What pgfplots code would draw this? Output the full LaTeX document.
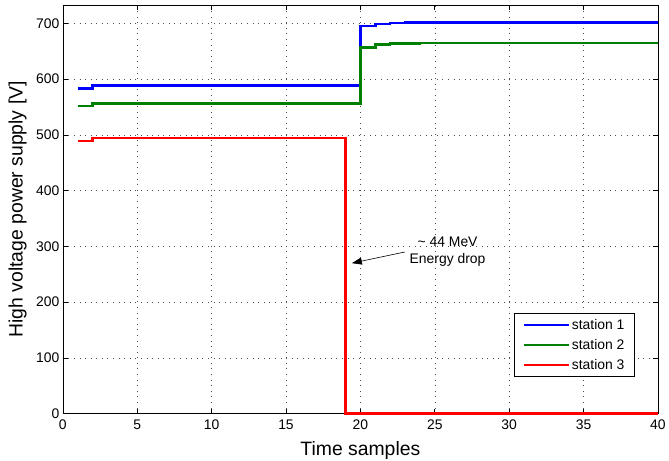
\documentclass[border=0pt]{standalone}
\usepackage{fontspec}
\setmainfont{Liberation Sans}
\usepackage{pgfplots}
\pgfplotsset{compat=1.18}
\usetikzlibrary{arrows.meta}

\definecolor{mblue}{rgb}{0,0,1}
\definecolor{mgreen}{rgb}{0,0.5,0}
\definecolor{mred}{rgb}{1,0,0}

\begin{document}
\begin{tikzpicture}
\begin{axis}[
  scale only axis,
  width=597bp, height=410bp,
  xmin=0, xmax=40, ymin=0, ymax=733,
  xtick={0,5,...,40}, ytick={0,100,...,700},
  clip=false,
  tick align=inside,
  major tick length=5bp,
  grid=major,
  major grid style={black!70, line width=0.5pt, dash pattern=on 0.6bp off 5bp},
  axis line style={line width=0.6pt},
  tick style={line width=0.6pt, black},
  ticklabel style={font=\fontsize{14}{16}\selectfont},
  xticklabel style={yshift=-3bp},
  /pgf/number format/assume math mode=true,
  xlabel={Time samples},
  ylabel={High voltage power supply [V]},
  every axis x label/.style={at={(axis description cs:0.5,-0.1024)}, anchor=base,
    font=\fontsize{19.5}{22}\selectfont, inner sep=0pt},
  every axis y label/.style={at={(axis description cs:-0.076,0.5)}, anchor=center,
    rotate=90, font=\fontsize{19.5}{22}\selectfont, inner sep=0pt},
  legend cell align=left,
  legend style={at={(0.961,0.09)}, anchor=south east,
    font=\fontsize{14}{17}\selectfont, draw=black, line width=0.6pt,
    row sep=4.5bp, inner xsep=8bp, inner ysep=4bp},
  legend image code/.code={\draw[#1] (0cm,0cm) -- (45bp,0cm);},
]
\addplot[const plot, mblue, line width=2.5bp] coordinates {
  (1,583) (2,589) (20,695) (21,699) (22,701) (23,702) (40,702)};
\addplot[const plot, mgreen, line width=2.5bp] coordinates {
  (1,552) (2,556) (20,657) (21,662) (22,664) (24,665) (40,665)};
\addplot[const plot, mred, line width=2.5bp] coordinates {
  (1,489) (2,494) (19,494) (19,0) (40,0)};
\legend{station 1, station 2, station 3}

\draw[-{Triangle[length=10bp,width=7bp]}, line width=0.6pt]
  (axis cs:22.98,290) -- (axis cs:19.43,270);
\node[align=center, inner sep=0pt, font=\fontsize{14}{17}\selectfont]
  at (axis cs:25.86,291) {\textasciitilde{} 44 MeV\\Energy drop};
\end{axis}
\path ([xshift=-63bp,yshift=5bp]current axis.north west)
  rectangle ([xshift=9bp,yshift=-47bp]current axis.south east);
\end{tikzpicture}
\end{document}
